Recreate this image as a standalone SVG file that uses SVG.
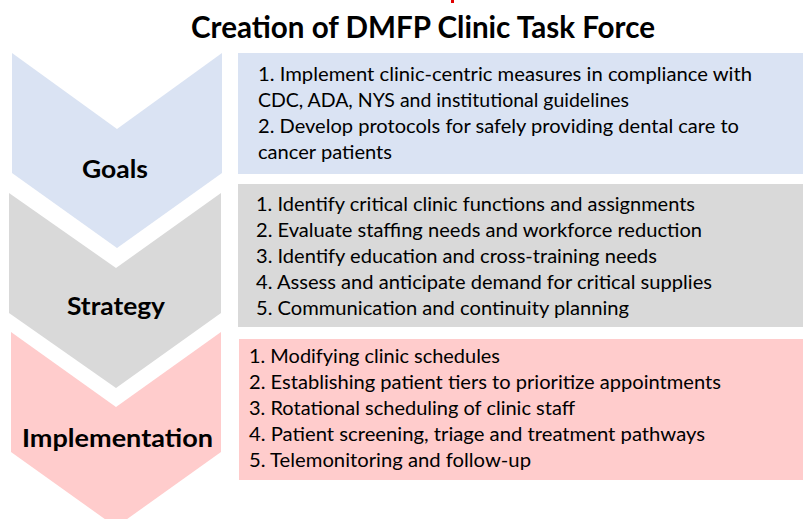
<svg xmlns="http://www.w3.org/2000/svg" width="803" height="519" viewBox="0 0 803 519">
<style>
  .title { font-family: Lato, "Liberation Sans", sans-serif; font-weight: bold; font-size: 30px; fill: #000; }
  .label { font-family: Lato, "Liberation Sans", sans-serif; font-weight: bold; font-size: 25.5px; fill: #000; }
  .body { font-family: Lato, "Liberation Sans", sans-serif; font-size: 19.5px; fill: #000; }
  .blue { fill: #DAE3F3; }
  .gray { fill: #D9D9D9; }
  .pink { fill: #FFCCCC; }
</style>
<rect width="803" height="519" fill="#FFFFFF"/>
<rect x="451" y="0" width="3" height="3" fill="#E00000"/>
<text class="title" x="191" y="38" textLength="464" lengthAdjust="spacingAndGlyphs">Creation of DMFP Clinic Task Force</text>

<g id="connectors"></g>

<g id="goals">
  <polygon class="blue" points="12,53 117,129 222,53 222,173 117,248 12,173"/>
  <text class="label" x="82" y="178" textLength="66" lengthAdjust="spacingAndGlyphs">Goals</text>
</g>
<g id="goals-box">
  <rect class="blue" x="238" y="53" width="565" height="121"/>
  <text class="body" x="258" y="81" textLength="494" lengthAdjust="spacingAndGlyphs">1. Implement clinic-centric measures in compliance with</text>
  <text class="body" x="258" y="107" textLength="371" lengthAdjust="spacingAndGlyphs">CDC, ADA, NYS and institutional guidelines</text>
  <text class="body" x="258" y="133" textLength="481" lengthAdjust="spacingAndGlyphs">2. Develop protocols for safely providing dental care to</text>
  <text class="body" x="258" y="159" textLength="134" lengthAdjust="spacingAndGlyphs">cancer patients</text>
</g>

<g id="strategy">
  <polygon class="gray" points="9,193 116,268 221,193 221,313 116,388 9,313"/>
  <text class="label" x="67" y="315" textLength="98" lengthAdjust="spacingAndGlyphs">Strategy</text>
</g>
<g id="strategy-box">
  <rect class="gray" x="238" y="184" width="565" height="143"/>
  <text class="body" x="256" y="211" textLength="439" lengthAdjust="spacingAndGlyphs">1. Identify critical clinic functions and assignments</text>
  <text class="body" x="256" y="237" textLength="446" lengthAdjust="spacingAndGlyphs">2. Evaluate staffing needs and workforce reduction</text>
  <text class="body" x="256" y="263" textLength="401" lengthAdjust="spacingAndGlyphs">3. Identify education and cross-training needs</text>
  <text class="body" x="256" y="289" textLength="456" lengthAdjust="spacingAndGlyphs">4. Assess and anticipate demand for critical supplies</text>
  <text class="body" x="256" y="315" textLength="373" lengthAdjust="spacingAndGlyphs">5. Communication and continuity planning</text>
</g>

<g id="implementation">
  <polygon class="pink" points="11,332 116,407 221,332 221,452 116,527 11,452"/>
  <text class="label" x="22" y="447" textLength="191" lengthAdjust="spacingAndGlyphs">Implementation</text>
</g>
<g id="implementation-box">
  <rect class="pink" x="239" y="339" width="564" height="141"/>
  <text class="body" x="249" y="363" textLength="251" lengthAdjust="spacingAndGlyphs">1. Modifying clinic schedules</text>
  <text class="body" x="249" y="389" textLength="472" lengthAdjust="spacingAndGlyphs">2. Establishing patient tiers to prioritize appointments</text>
  <text class="body" x="249" y="415" textLength="326" lengthAdjust="spacingAndGlyphs">3. Rotational scheduling of clinic staff</text>
  <text class="body" x="249" y="441" textLength="456" lengthAdjust="spacingAndGlyphs">4. Patient screening, triage and treatment pathways</text>
  <text class="body" x="249" y="467" textLength="282" lengthAdjust="spacingAndGlyphs">5. Telemonitoring and follow-up</text>
</g>
</svg>
